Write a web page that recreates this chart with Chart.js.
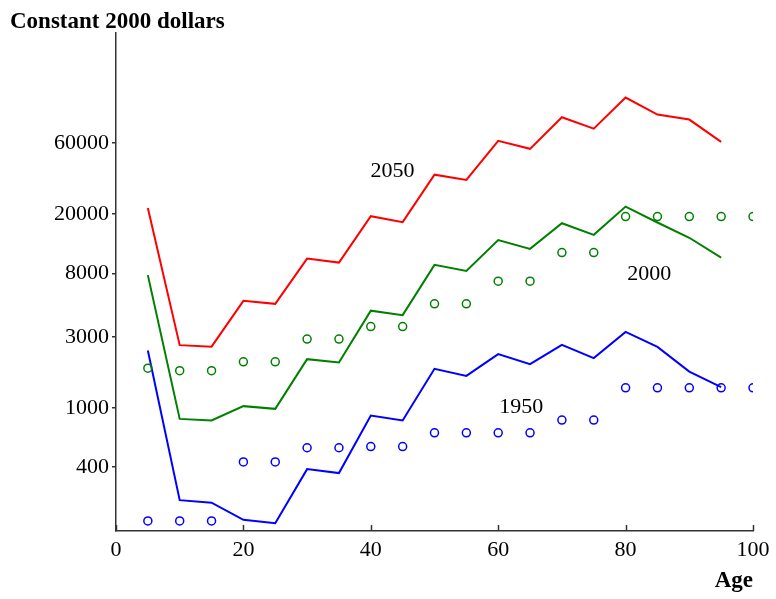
<!DOCTYPE html>
<html>
<head>
<meta charset="utf-8">
<script src="https://cdn.jsdelivr.net/npm/chart.js@4.4.1/dist/chart.umd.min.js"></script>
<style>
  html, body { margin: 0; padding: 0; background: #fff; }
  #wrap { width: 776px; height: 599px; }
</style>
</head>
<body>
<div id="wrap"><canvas id="chartAge" width="776" height="599"></canvas></div>
<script>
// --- DATOS ---
const ages = [5, 10, 15, 20, 25, 30, 35, 40, 45, 50, 55, 60, 65, 70, 75, 80, 85, 90, 95];
const agesDots = [5, 10, 15, 20, 25, 30, 35, 40, 45, 50, 55, 60, 65, 70, 75, 80, 85, 90, 95, 100];

const line2050 = [22000, 2640, 2580, 5240, 5000, 10070, 9470, 19400, 17700, 36900, 34000, 62200, 55000, 89700, 75200, 121500, 93400, 86500, 61200];
const line2000 = [7800, 844, 823, 1028, 986, 2126, 2017, 4500, 4200, 9140, 8330, 13400, 11700, 17400, 14540, 22500, 17600, 13900, 10230];
const line1950 = [2430, 240, 231, 177, 168, 388, 365, 889, 823, 1830, 1640, 2300, 1970, 2650, 2160, 3240, 2570, 1755, 1380];

const dots2000 = [1850, 1780, 1780, 2040, 2040, 2900, 2900, 3520, 3520, 5000, 5000, 7100, 7100, 11050, 11050, 19300, 19300, 19300, 19300, 19300];
const dots1950 = [174, 174, 174, 434, 434, 540, 540, 550, 550, 680, 680, 680, 680, 828, 828, 1364, 1364, 1364, 1364, 1364];

const yTicks = [400, 1000, 3000, 8000, 20000, 60000];
const xTicks = [0, 20, 40, 60, 80, 100];

// etiquetas de las series: [texto, edad, valor]
const seriesLabels = [
    ['2050', 43.4, 35500],
    ['2000', 83.7, 7250],
    ['1950', 63.6, 922]
];

const FONT = '"Liberation Serif", "Times New Roman", serif';
const AXIS_COLOR = '#333';

function toPoints(xs, ys) {
    return xs.map((x, i) => ({ x: x, y: ys[i] }));
}

function lineSet(label, values, color) {
    return {
        type: 'line', label: label, data: toPoints(ages, values),
        borderColor: color, borderWidth: 2, pointRadius: 0, fill: false, tension: 0
    };
}

function dotSet(label, values, color) {
    return {
        type: 'scatter', label: label, data: toPoints(agesDots, values),
        borderColor: color, backgroundColor: 'rgba(0,0,0,0)',
        pointRadius: 4, pointBorderWidth: 1.5, showLine: false
    };
}

// títulos, ticks del eje x hacia dentro y etiquetas de año
const extrasPlugin = {
    id: 'extras',
    afterDraw(chart) {
        const ctx = chart.ctx;
        const x = chart.scales.x;
        const y = chart.scales.y;
        const area = chart.chartArea;
        ctx.save();

        ctx.strokeStyle = AXIS_COLOR;
        ctx.lineWidth = 1.5;
        x.ticks.forEach(t => {
            const px = Math.round(x.getPixelForValue(t.value)) + 0.5;
            ctx.beginPath();
            ctx.moveTo(px, area.bottom);
            ctx.lineTo(px, area.bottom - 6);
            ctx.stroke();
        });

        ctx.fillStyle = '#000';
        ctx.font = 'bold 23px ' + FONT;
        ctx.textBaseline = 'alphabetic';
        ctx.textAlign = 'left';
        ctx.fillText('Constant 2000 dollars', 10, 28);
        ctx.textAlign = 'right';
        ctx.fillText('Age', area.right, 587);

        ctx.font = '22px ' + FONT;
        ctx.textAlign = 'center';
        seriesLabels.forEach(([txt, age, val]) => {
            ctx.fillText(txt, x.getPixelForValue(age), y.getPixelForValue(val));
        });
        ctx.restore();
    }
};

document.addEventListener('DOMContentLoaded', () => {
    new Chart(document.getElementById('chartAge').getContext('2d'), {
        data: {
            datasets: [
                dotSet('2000 (obs)', dots2000, '#008000'),
                dotSet('1950 (obs)', dots1950, '#0000ff'),
                lineSet('2050', line2050, '#ff0000'),
                lineSet('2000', line2000, '#008000'),
                lineSet('1950', line1950, '#0000ff')
            ]
        },
        options: {
            responsive: false,
            animation: false,
            layout: { padding: { top: 33, right: 23, left: 0, bottom: 0 } },
            plugins: {
                legend: { display: false },
                title: { display: false },
                tooltip: { enabled: false }
            },
            scales: {
                x: {
                    type: 'linear',
                    min: 0, max: 100,
                    afterFit: (s) => { s.height = 68; },
                    afterBuildTicks: (s) => { s.ticks = xTicks.map(v => ({ value: v })); },
                    grid: { display: false, drawTicks: false },
                    border: { display: true, color: AXIS_COLOR, width: 1.5 },
                    ticks: {
                        color: '#000', padding: 6, maxRotation: 0,
                        font: { family: FONT, size: 22 },
                        callback: (v) => String(v)
                    }
                },
                y: {
                    type: 'logarithmic',
                    min: 149, max: 330000,
                    bounds: 'data',
                    afterFit: (s) => { s.width = 116; },
                    afterBuildTicks: (s) => { s.ticks = yTicks.map(v => ({ value: v })); },
                    grid: { display: true, drawOnChartArea: false, drawTicks: true, tickLength: 4, color: AXIS_COLOR, lineWidth: 1.5 },
                    border: { display: true, color: AXIS_COLOR, width: 1.5 },
                    ticks: {
                        color: '#000', padding: 3,
                        font: { family: FONT, size: 22 },
                        callback: (v) => String(v)
                    }
                }
            }
        },
        plugins: [extrasPlugin]
    });
});
</script>
</body>
</html>
